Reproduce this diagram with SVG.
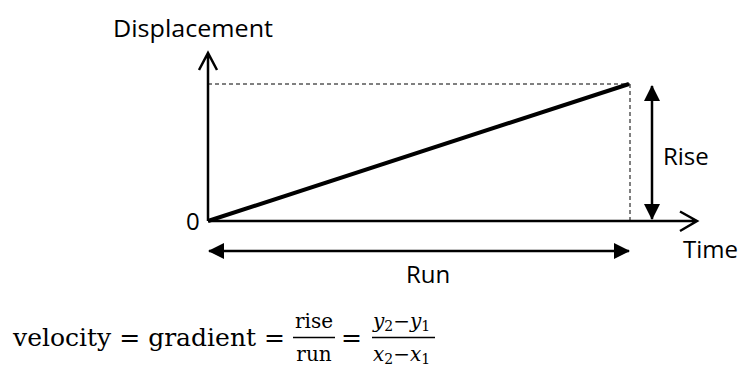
<svg xmlns="http://www.w3.org/2000/svg" width="743" height="367" viewBox="0 0 743 367">
<defs>
<style>
.lbl{font-family:"Open Sans","Noto Sans",sans-serif;font-size:24px;fill:#000}
.m{font-family:"DejaVu Serif","Liberation Serif",serif;fill:#000}
.ax{stroke:#000;stroke-width:2.5;fill:none}
.dash{stroke:#000;stroke-width:1;stroke-dasharray:4,3;fill:none}
</style>
<marker id="tri" viewBox="0 0 16 16" refX="15" refY="8" markerWidth="16" markerHeight="16" markerUnits="userSpaceOnUse" orient="auto-start-reverse">
<path d="M0,0 L16,8 L0,16 Z" fill="#000"/>
</marker>
</defs>
<rect width="743" height="367" fill="#fff"/>
<g id="connectors">
<line class="dash" x1="208" y1="84" x2="630" y2="84"/>
<line class="dash" x1="630" y1="84" x2="630" y2="221"/>
<path class="ax" d="M208,221 L208,53 M199,70 L208,53 L217,70"/>
<path class="ax" d="M208,221 L697,221 M680,211.5 L697,221 L680,231"/>
<line x1="208" y1="221" x2="629" y2="84" stroke="#000" stroke-width="4"/>
<line class="ax" x1="652" y1="86" x2="652" y2="219" marker-start="url(#tri)" marker-end="url(#tri)"/>
<line class="ax" x1="209" y1="251" x2="629" y2="251" marker-start="url(#tri)" marker-end="url(#tri)"/>
</g>
<g id="labels">
<text class="lbl" x="113" y="37" textLength="160" lengthAdjust="spacingAndGlyphs">Displacement</text>
<text class="lbl" x="186" y="230">0</text>
<text class="lbl" x="663" y="165">Rise</text>
<text class="lbl" x="683" y="258">Time</text>
<text class="lbl" x="406" y="283">Run</text>
</g>
<g id="formula">
<text class="m" x="13" y="346" font-size="25" textLength="272" lengthAdjust="spacingAndGlyphs">velocity = gradient =</text>
<text class="m" x="314" y="328" font-size="20" text-anchor="middle">rise</text>
<line x1="293" y1="337.5" x2="335" y2="337.5" stroke="#000" stroke-width="1.5"/>
<text class="m" x="314" y="361" font-size="20" text-anchor="middle">run</text>
<text class="m" x="341" y="346" font-size="25" textLength="21" lengthAdjust="spacingAndGlyphs">=</text>
<line x1="372" y1="337.5" x2="435" y2="337.5" stroke="#000" stroke-width="1.5"/>
<text class="m" x="373" y="328" font-size="20"><tspan font-style="italic">y</tspan><tspan font-size="14" dy="3">2</tspan><tspan dy="-3">−</tspan><tspan font-style="italic">y</tspan><tspan font-size="14" dy="3">1</tspan></text>
<text class="m" x="373" y="361" font-size="20"><tspan font-style="italic">x</tspan><tspan font-size="14" dy="3">2</tspan><tspan dy="-3">−</tspan><tspan font-style="italic">x</tspan><tspan font-size="14" dy="3">1</tspan></text>
</g>
</svg>
